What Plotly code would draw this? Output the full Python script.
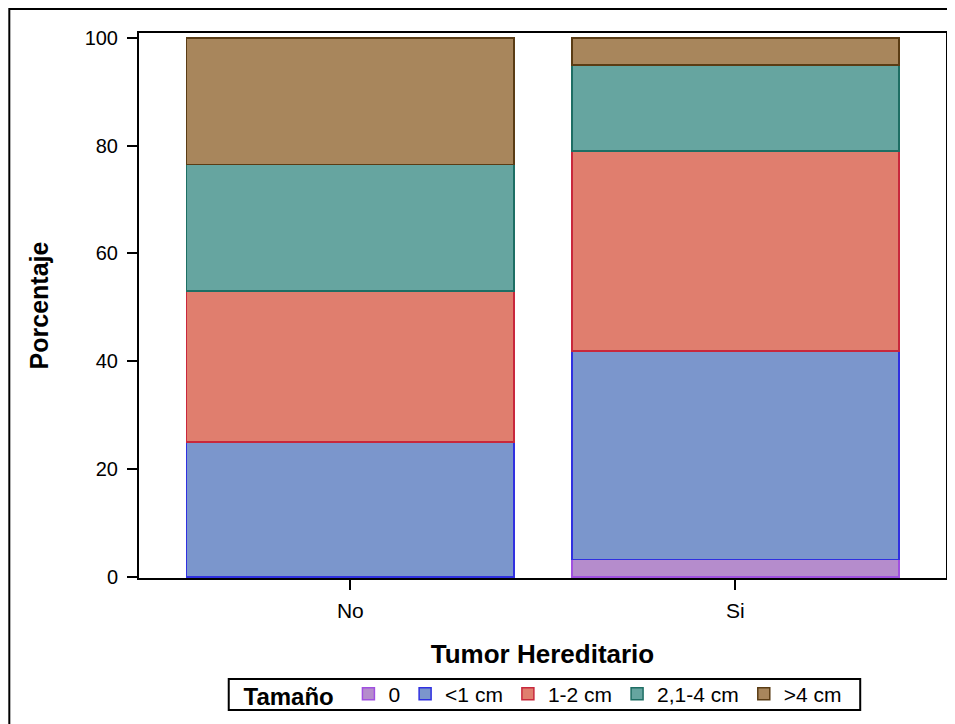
import plotly.graph_objects as go

categories = ["No", "Si"]
series_names = ["0", "<1 cm", "1-2 cm", "2,1-4 cm", ">4 cm"]
values = {
    "0": [0.0, 3.2],
    "<1 cm": [25.0, 38.7],
    "1-2 cm": [28.0, 37.1],
    "2,1-4 cm": [23.5, 16.0],
    ">4 cm": [23.5, 5.0],
}
fill_colors = ["#b58ccc", "#7b96cc", "#e07e6e", "#66a5a0", "#a8865c"]
line_colors = ["#a050e0", "#3030e0", "#c8283c", "#1e6e64", "#5a3c14"]
y_ticks = [0, 20, 40, 60, 80, 100]

fig = go.Figure()
for name, fc, lc in zip(series_names, fill_colors, line_colors):
    fig.add_trace(go.Bar(
        x=categories, y=values[name], name=name,
        marker=dict(color=fc, line=dict(color=lc, width=1.5)),
        width=0.85,
    ))

font = "Liberation Sans, Arial, sans-serif"
fig.update_layout(
    barmode="stack",
    width=947, height=716,
    margin=dict(l=131, r=7, t=25, b=146),
    paper_bgcolor="white", plot_bgcolor="white",
    font=dict(family=font, size=20, color="black"),
    showlegend=True,
    legend=dict(
        orientation="h", x=0.5025, xanchor="center",
        yref="container", y=0.0412, yanchor="middle",
        title=dict(text="<b>Tamaño</b> ", font=dict(size=24)),
        bgcolor="rgba(0,0,0,0)", borderwidth=0, font=dict(size=21),
        traceorder="normal", itemwidth=30, tracegroupgap=0,
    ),
    xaxis=dict(
        range=[-0.549, 1.547], showline=True, linecolor="black", linewidth=2,
        mirror=True, ticks="outside", ticklen=10, tickwidth=2, tickcolor="black",
        tickfont=dict(size=21), ticklabelstandoff=3,
        title=dict(text="<b>Tumor Hereditario</b>", font=dict(size=26), standoff=24),
    ),
    yaxis=dict(
        range=[-0.2, 100.9], tickvals=y_ticks, showline=True, linecolor="black",
        linewidth=2, mirror=True, ticks="outside", ticklen=10, tickwidth=2,
        tickcolor="black", showgrid=False, zeroline=False, tickfont=dict(size=20),
        ticklabelstandoff=5,
        title=dict(text="<b>Porcentaje</b>", font=dict(size=25), standoff=29),
    ),
)
# outer figure frame
fig.add_shape(type="rect", xref="paper", yref="paper",
              x0=-0.1607, x1=1.2, y0=-0.5, y1=1.044,
              line=dict(color="black", width=2), layer="below")
# legend frame
fig.add_shape(type="rect", xref="paper", yref="paper",
              x0=0.1112, x1=0.8937, y0=-0.2422, y1=-0.1853,
              line=dict(color="black", width=2), layer="below")
fig.write_html("out.html")
